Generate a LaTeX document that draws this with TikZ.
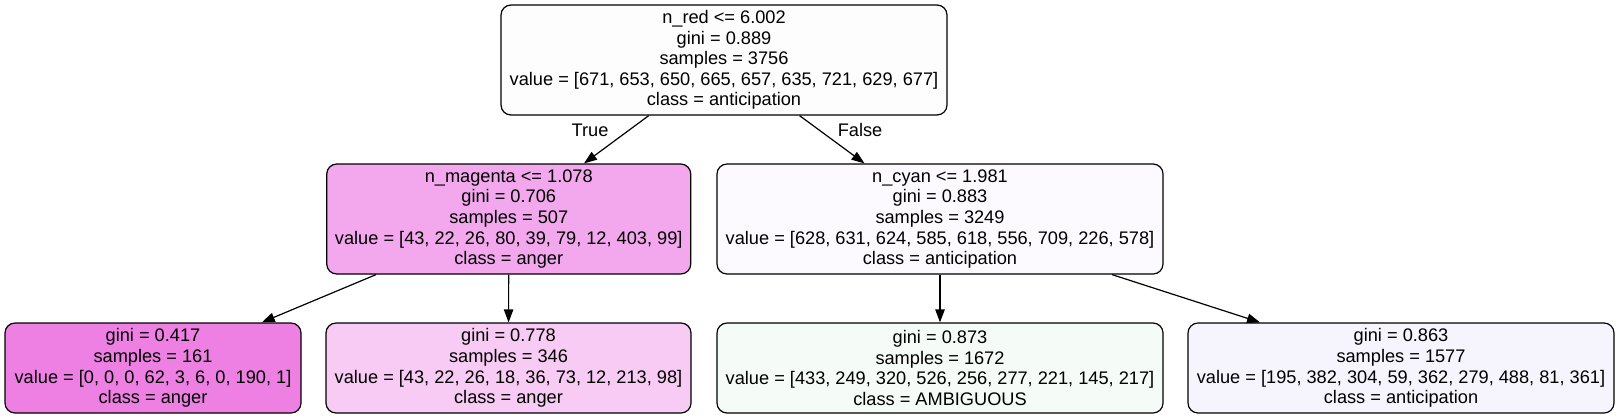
\documentclass[tikz,border=0pt]{standalone}
\usepackage{fontspec}
\setmainfont{Liberation Sans}
\usetikzlibrary{arrows.meta}
\definecolor{dtroot}{RGB}{253,253,253}
\definecolor{dtmagenta}{RGB}{243,168,237}
\definecolor{dtcyan}{RGB}{252,250,254}
\definecolor{dtleafa}{RGB}{238,128,227}
\definecolor{dtleafb}{RGB}{248,203,244}
\definecolor{dtleafc}{RGB}{245,251,247}
\definecolor{dtleafd}{RGB}{246,244,253}

\begin{document}
\begin{tikzpicture}[x=0.5pt, y=-0.5pt,
  treenode/.style={draw, line width=0.6pt, rounded corners=5pt, align=center,
    inner sep=0pt, font=\fontsize{9.1}{10.3}\selectfont},
  splitnode/.style={treenode, minimum height=55pt},
  leafnode/.style={treenode, minimum height=45pt},
  edge/.style={-{Triangle[length=6.5pt,width=4.7pt]}, line width=0.6pt},
  edgelabel/.style={font=\fontsize{9.1}{10.3}\selectfont}]
\useasboundingbox (0,0) rectangle (1620,419);
% Root split
\node[splitnode, fill=dtroot, minimum width=223pt] (root) at (724,60)
  {n\_red <= 6.002\\gini = 0.889\\samples = 3756\\
   value = [671, 653, 650, 665, 657, 635, 721, 629, 677]\\class = anticipation};
% Second level
\node[splitnode, fill=dtmagenta, minimum width=182pt] (magenta) at (508.75,219)
  {n\_magenta <= 1.078\\gini = 0.706\\samples = 507\\
   value = [43, 22, 26, 80, 39, 79, 12, 403, 99]\\class = anger};
\node[splitnode, fill=dtcyan, minimum width=223pt] (cyan) at (940,219)
  {n\_cyan <= 1.981\\gini = 0.883\\samples = 3249\\
   value = [628, 631, 624, 585, 618, 556, 709, 226, 578]\\class = anticipation};
% Leaves
\node[leafnode, fill=dtleafa, minimum width=148pt] (leafa) at (153,368)
  {gini = 0.417\\samples = 161\\value = [0, 0, 0, 62, 3, 6, 0, 190, 1]\\class = anger};
\node[leafnode, fill=dtleafb, minimum width=182.5pt] (leafb) at (508.5,368)
  {gini = 0.778\\samples = 346\\value = [43, 22, 26, 18, 36, 73, 12, 213, 98]\\class = anger};
\node[leafnode, fill=dtleafc, minimum width=223pt] (leafc) at (940,368)
  {gini = 0.873\\samples = 1672\\value = [433, 249, 320, 526, 256, 277, 221, 145, 217]\\class = AMBIGUOUS};
\node[leafnode, fill=dtleafd, minimum width=213pt] (leafd) at (1401,368)
  {gini = 0.863\\samples = 1577\\value = [195, 382, 304, 59, 362, 279, 488, 81, 361]\\class = anticipation};
% Edges
\foreach \from/\to in {root/magenta, root/cyan, magenta/leafa, magenta/leafb, cyan/leafc, cyan/leafd}
  \draw[edge] (\from) -- (\to);
\node[edgelabel] (lbltrue) at (590,130) {True};
\node[edgelabel] (lblfalse) at (860,130) {False};
\end{tikzpicture}
\end{document}
